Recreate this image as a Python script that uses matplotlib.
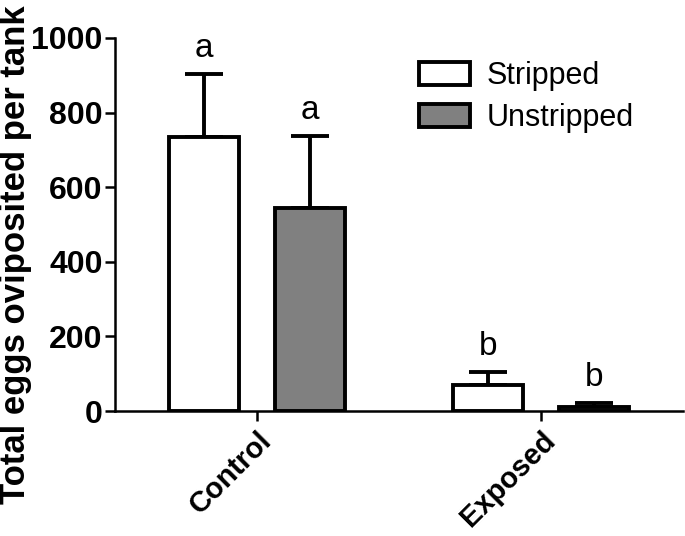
import matplotlib
matplotlib.use("Agg")
import matplotlib.pyplot as plt
import numpy as np

plt.rcParams['font.family'] = ['Liberation Sans', 'DejaVu Sans']

groups = ["Control", "Exposed"]
series = ["Stripped", "Unstripped"]
stripped_mean = [735, 70]
stripped_err = [168, 35]
unstripped_mean = [544, 12]
unstripped_err = [194, 10]
letters_stripped = ["a", "b"]
letters_unstripped = ["a", "b"]

fig = plt.figure(figsize=(6.85, 5.36), dpi=100)
ax = fig.add_axes([0.168, 0.2332, 0.829, 0.696])

x = np.arange(len(groups))
off = 0.187
w = 0.246
lw = 2.8

b1 = ax.bar(x - off, stripped_mean, w, color="white", edgecolor="black", linewidth=lw,
            label=series[0], zorder=2)
b2 = ax.bar(x + off, unstripped_mean, w, color="#808080", edgecolor="black", linewidth=lw,
            label=series[1], zorder=2)
ax.errorbar(x - off, stripped_mean, yerr=[np.zeros(2), stripped_err], fmt="none",
            ecolor="black", elinewidth=lw, capsize=14, capthick=lw, zorder=1)
ax.errorbar(x + off, unstripped_mean, yerr=[np.zeros(2), unstripped_err], fmt="none",
            ecolor="black", elinewidth=lw, capsize=14, capthick=lw, zorder=1)

for xi, m, e, t in zip(x - off, stripped_mean, stripped_err, letters_stripped):
    ax.annotate(t, (xi, m + e), xytext=(0, 7), textcoords="offset points",
                ha="center", va="bottom", fontsize=24)
for xi, m, e, t in zip(x + off, unstripped_mean, unstripped_err, letters_unstripped):
    ax.annotate(t, (xi, m + e), xytext=(0, 7), textcoords="offset points",
                ha="center", va="bottom", fontsize=24)

ax.set_xlim(-0.5, 1.5)
ax.set_ylim(0, 1000)
ax.set_yticks([0, 200, 400, 600, 800, 1000])
ax.set_xticks(x)
ax.set_xticklabels(groups, rotation=45, ha="right", rotation_mode="anchor",
                   fontsize=21, fontweight="bold")
for lab in ax.get_yticklabels():
    lab.set_fontsize(23)
    lab.set_fontweight("bold")
ax.set_ylabel("Total eggs oviposited per tank", fontsize=25, fontweight="bold")
ax.yaxis.set_label_coords(-0.146, 0.42)

for s in ["top", "right"]:
    ax.spines[s].set_visible(False)
for s in ["left", "bottom"]:
    ax.spines[s].set_linewidth(1.8)
ax.tick_params(axis="both", width=1.8, length=7, direction="out")
ax.tick_params(axis="y", pad=2)
ax.tick_params(axis="x", pad=4)

ax.legend(loc="upper left", bbox_to_anchor=(0.487, 1.012), frameon=False, fontsize=22,
          handlelength=1.65, handleheight=0.8, handletextpad=0.55, labelspacing=0.4)

fig.savefig("out.png", dpi=100)
